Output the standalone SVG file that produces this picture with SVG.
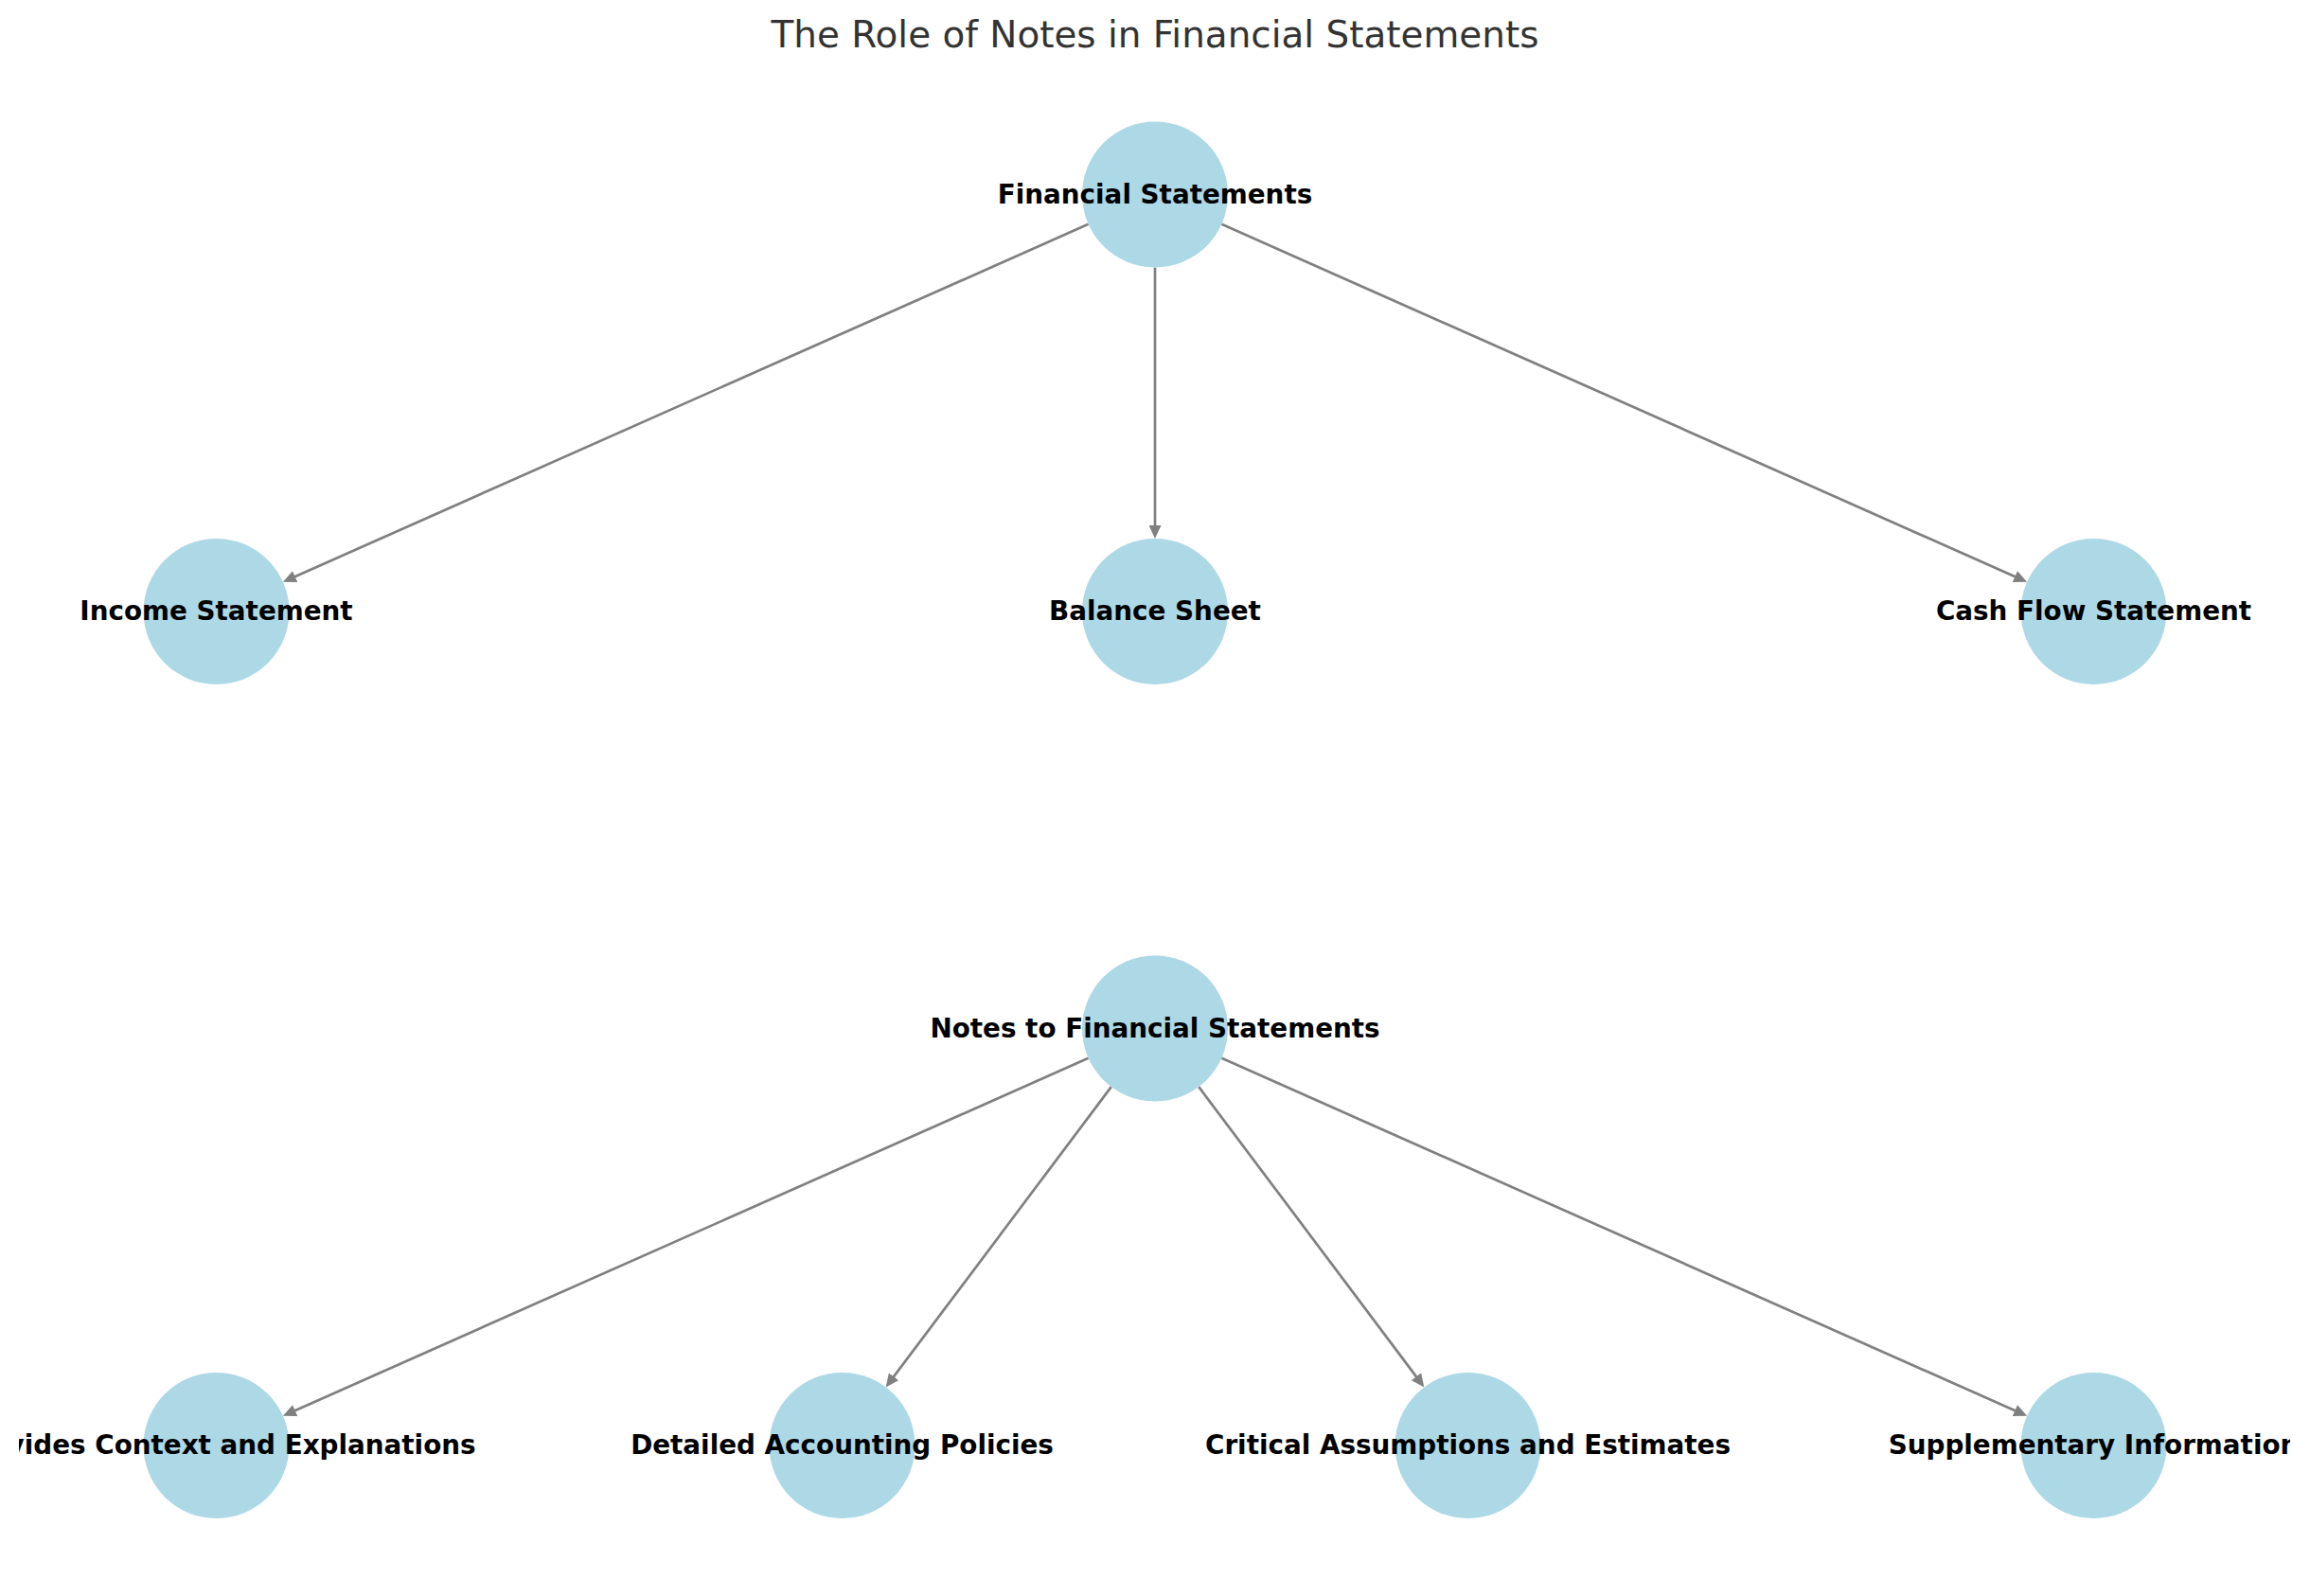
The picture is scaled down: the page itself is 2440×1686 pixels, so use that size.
<svg xmlns="http://www.w3.org/2000/svg" width="2440" height="1686" viewBox="0 0 2440 1686">
<style>
.node circle{fill:#ADD8E6;}
.node text{font-family:"DejaVu Sans","Liberation Sans",sans-serif;font-weight:bold;font-size:27.8px;fill:#000;text-anchor:middle;clip-path:url(#axes);}
.edges line{stroke:#808080;stroke-width:2.7;fill:none;marker-end:url(#arrow);}
.title{font-family:"DejaVu Sans","Liberation Sans",sans-serif;font-size:38.9px;fill:#333333;text-anchor:middle;}
</style>
<defs>
<clipPath id="axes" clipPathUnits="userSpaceOnUse"><rect x="20" y="80" width="2399" height="1590"/></clipPath>
<marker id="arrow" markerUnits="userSpaceOnUse" markerWidth="14" markerHeight="13" refX="4" refY="6.5" orient="auto" viewBox="0 0 14 13">
<path d="M0,0 L14,6.5 L0,13 z" fill="#808080"/>
</marker>
</defs>
<rect width="2440" height="1686" fill="#ffffff"/>
<text class="title" x="1220" y="50">The Role of Notes in Financial Statements</text>
<g id="edges" class="edges">
<line x1="1149.6" y1="236.8" x2="308.0" y2="610.7"/>
<line x1="1220" y1="282.5" x2="1220" y2="559"/>
<line x1="1290.4" y1="236.8" x2="2132.0" y2="610.7"/>
<line x1="1149.6" y1="1117.8" x2="308.0" y2="1491.7"/>
<line x1="1173.8" y1="1148.1" x2="941.7" y2="1457.4"/>
<line x1="1266.2" y1="1148.1" x2="1498.3" y2="1457.4"/>
<line x1="1290.4" y1="1117.8" x2="2132.0" y2="1491.7"/>
</g>
<g id="financial-statements" class="node"><circle cx="1220" cy="205.5" r="77"/><text x="1220" y="214.5">Financial Statements</text></g>
<g id="income-statement" class="node"><circle cx="228.5" cy="646" r="77"/><text x="228.5" y="655">Income Statement</text></g>
<g id="balance-sheet" class="node"><circle cx="1220" cy="646" r="77"/><text x="1220" y="655">Balance Sheet</text></g>
<g id="cash-flow-statement" class="node"><circle cx="2211.5" cy="646" r="77"/><text x="2211.5" y="655">Cash Flow Statement</text></g>
<g id="notes" class="node"><circle cx="1220" cy="1086.5" r="77"/><text x="1220" y="1095.5">Notes to Financial Statements</text></g>
<g id="context" class="node"><circle cx="228.5" cy="1527" r="77"/><text x="228.5" y="1536">Provides Context and Explanations</text></g>
<g id="policies" class="node"><circle cx="889.5" cy="1527" r="77"/><text x="889.5" y="1536">Detailed Accounting Policies</text></g>
<g id="assumptions" class="node"><circle cx="1550.5" cy="1527" r="77"/><text x="1550.5" y="1536">Critical Assumptions and Estimates</text></g>
<g id="supplementary" class="node"><circle cx="2211.5" cy="1527" r="77"/><text x="2211.5" y="1536">Supplementary Information</text></g>
</svg>
